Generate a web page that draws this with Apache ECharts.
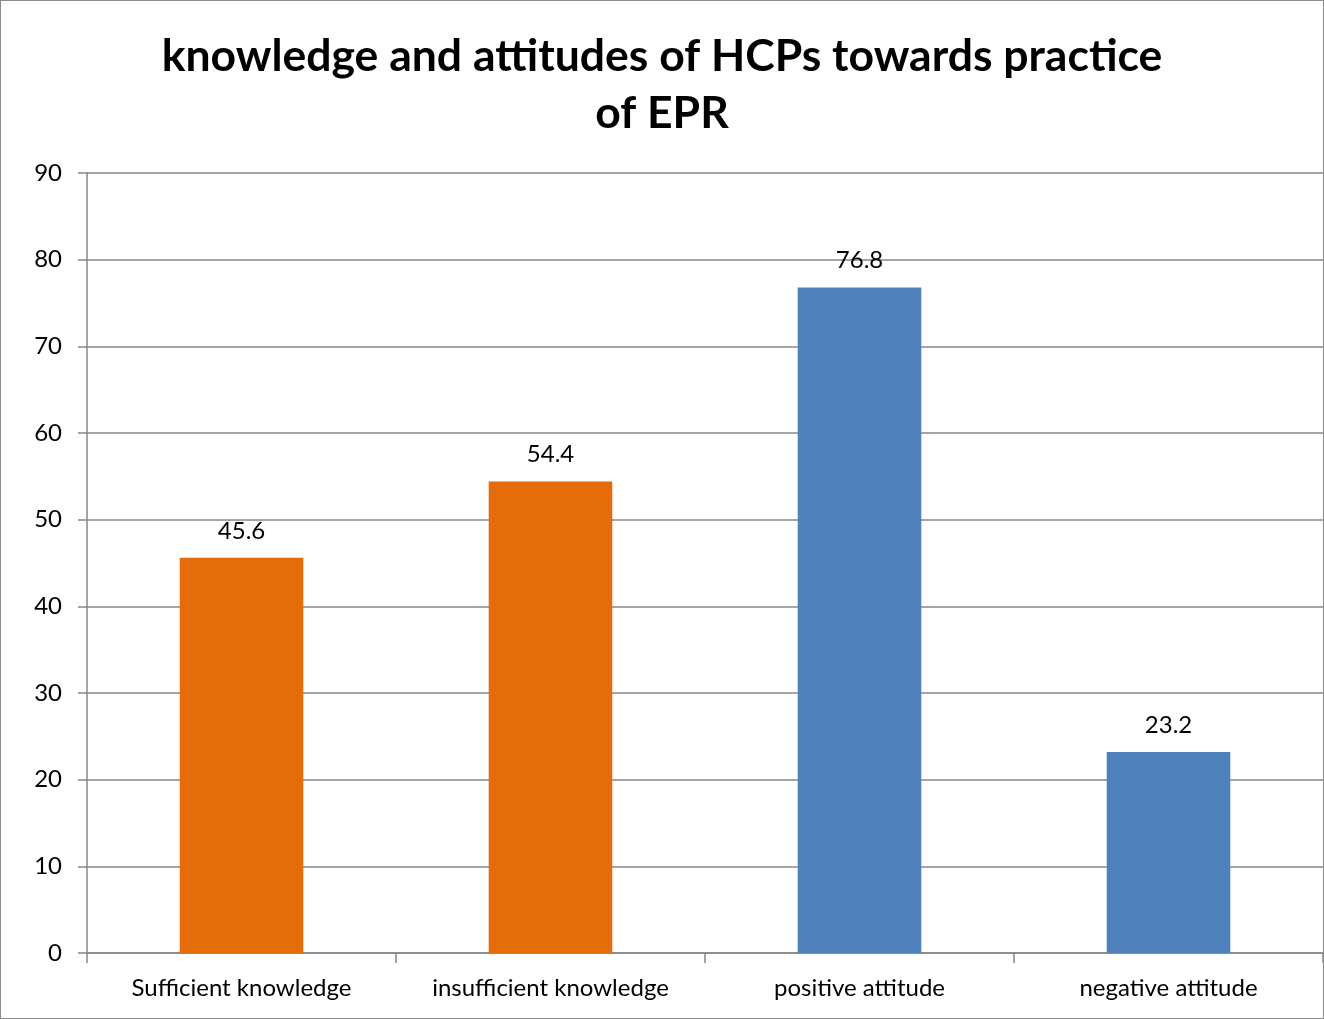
<!DOCTYPE html>
<html>
<head>
<meta charset="utf-8">
<script src="https://cdn.jsdelivr.net/npm/echarts@6/dist/echarts.min.js"></script>
<style>
html,body{margin:0;padding:0;background:#fff;}
#wrap{position:absolute;left:0;top:0;width:1322px;height:1017px;border:1px solid #8c8c8c;}
#chart{width:1322px;height:1017px;}
</style>
</head>
<body>
<div id="wrap"><div id="chart"></div></div>
<script>
const categories = ['Sufficient knowledge', 'insufficient knowledge', 'positive attitude', 'negative attitude'];
const values = [45.6, 54.4, 76.8, 23.2];
const barColors = ['#E46C0A', '#E46C0A', '#4F81BD', '#4F81BD'];
const titleText = 'knowledge and attitudes of HCPs towards practice\nof EPR';

const chart = echarts.init(document.getElementById('chart'), null, {renderer: 'canvas'});
const fontFam = 'Lato, "Open Sans", sans-serif';
chart.setOption({
  animation: false,
  title: {
    text: titleText,
    left: 'center',
    top: 22,
    textStyle: {fontFamily: fontFam, fontWeight: 'bold', fontSize: 44.5, lineHeight: 57, color: '#000', align: 'center'}
  },
  grid: {left: 86, right: 0, top: 172, bottom: 65},
  xAxis: {
    type: 'category',
    data: categories,
    axisLine: {lineStyle: {color: '#868686', width: 1.5}},
    axisTick: {show: true, length: 10, lineStyle: {color: '#868686', width: 1.5}},
    axisLabel: {fontFamily: fontFam, fontSize: 24, color: '#000', margin: 23}
  },
  yAxis: {
    type: 'value',
    min: 0, max: 90, interval: 10,
    axisLine: {show: true, lineStyle: {color: '#868686', width: 1.5}},
    axisTick: {show: true, length: 9, lineStyle: {color: '#868686', width: 1.5}},
    splitLine: {lineStyle: {color: '#868686', width: 1.5}},
    axisLabel: {fontFamily: fontFam, fontSize: 24, color: '#000', margin: 25}
  },
  series: [{
    type: 'bar',
    barWidth: '40%',
    data: values.map((v, i) => ({value: v, itemStyle: {color: barColors[i]}})),
    label: {show: true, position: 'top', distance: 15, fontFamily: fontFam, fontSize: 24, color: '#000'}
  }]
});
</script>
</body>
</html>
